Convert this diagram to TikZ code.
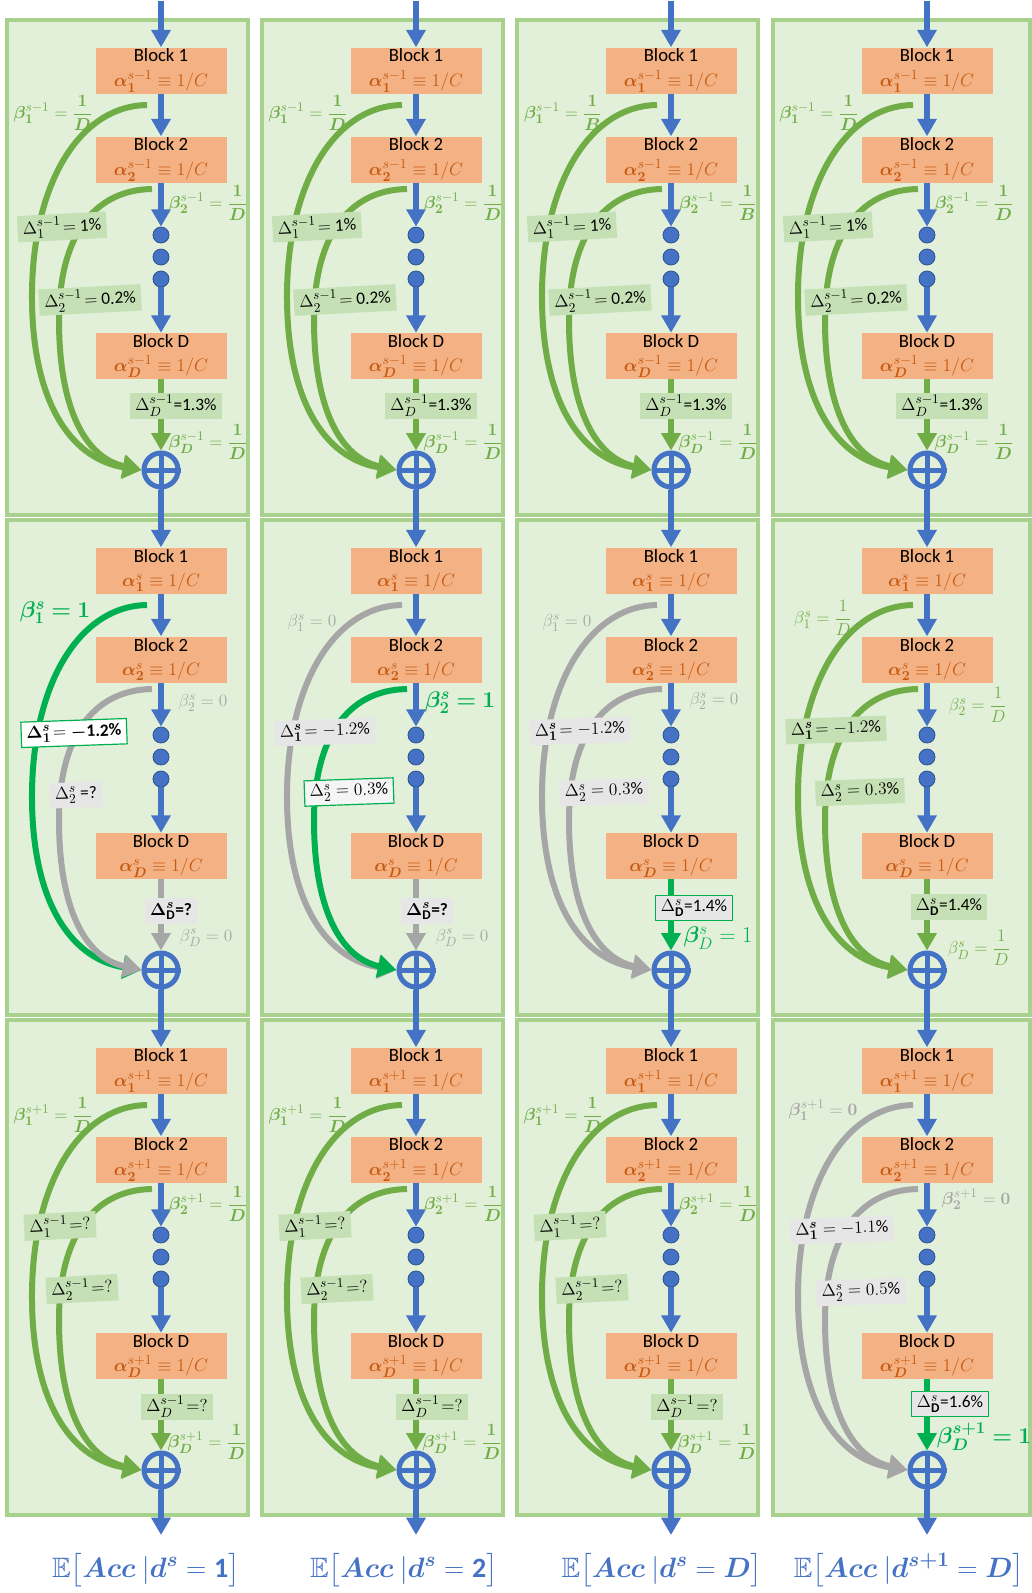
\RequirePackage{fix-cm}
\documentclass[tikz,border=0pt]{standalone}
\usepackage{amsmath,amssymb,bm}
\usepackage{fontspec}
\setmainfont{Carlito}
\usetikzlibrary{arrows.meta,calc}
\DeclareMathSizes{13}{13}{10}{7.5}
\DeclareMathSizes{13.5}{13.5}{10.4}{7.8}
\DeclareMathSizes{17}{17}{12.5}{9.5}
\DeclareMathSizes{21}{21}{15.5}{11}

\definecolor{pfill}{HTML}{E2F0D9}
\definecolor{pline}{HTML}{A9D18E}
\definecolor{bblue}{HTML}{4472C4}
\definecolor{dblue}{HTML}{2F528F}
\definecolor{orfill}{HTML}{F4B183}
\definecolor{ortext}{HTML}{C55A11}
\definecolor{gcurve}{HTML}{70AD47}
\definecolor{glab}{HTML}{C5E0B4}
\definecolor{sel}{HTML}{00B050}
\definecolor{gry}{HTML}{A6A6A6}
\definecolor{glyb}{HTML}{E7E6E6}

\newcommand\alfont{\fontsize{13.5}{18.5}\selectfont}
\tikzset{
  panel/.style={draw=pline, fill=pfill, line width=2.5pt},
  blk/.style={fill=orfill, minimum width=98.25pt, minimum height=34.5pt, inner sep=0pt,
    align=center, font=\fontsize{14}{18.5}\selectfont},
  dotn/.style={circle, fill=bblue, draw=dblue, line width=0.6pt, minimum size=12pt, inner sep=0pt},
  sumn/.style={circle, draw=bblue, line width=3.75pt, minimum size=25.5pt, inner sep=0pt},
  flow/.style={draw=bblue, line width=4pt, -{Triangle[length=13pt,width=14pt]}},
  lastlink/.style={line width=4pt, -{Triangle[length=13pt,width=14pt]}},
  skiparrow/.style={line width=4.5pt, -{Triangle[length=14pt,width=17pt]}},
  blab/.style={inner sep=1pt, font=\fontsize{13}{13}\selectfont},
  bigsel/.style={inner sep=1pt, text=sel, font=\fontsize{17}{17}\selectfont},
  dlab/.style={inner xsep=4pt, inner ysep=2pt, minimum height=19pt, font=\fontsize{13}{13}\selectfont},
  gbox/.style={dlab, fill=glab},
  ybox/.style={dlab, fill=glyb},
  sbox/.style={dlab, draw=sel, line width=0.9pt},
  elab/.style={text=bblue, font=\fontsize{21}{21}\selectfont}
}

% one stage: blocks, dots, sum node and the main blue flow
\newcommand\skel[4]{%
  \draw[panel] (-154,20) rectangle (#3,515);
  \node[blk] (#1-b1) at (0,70.5) {Block 1\\\textcolor{ortext}{\alfont$\bm{\alpha}_{\bm 1}^{#2}\equiv 1/C$}};
  \node[blk] (#1-b2) at (0,159.5) {Block 2\\\textcolor{ortext}{\alfont$\bm{\alpha}_{\bm 2}^{#2}\equiv 1/C$}};
  \node[dotn] (#1-d1) at (0,235) {};
  \node[dotn] (#1-d2) at (0,257) {};
  \node[dotn] (#1-d3) at (0,279) {};
  \node[blk] (#1-bD) at (0,356) {Block D\\\textcolor{ortext}{\alfont$\bm{\alpha}_{\bm D}^{#2}\equiv 1/C$}};
  \node[sumn] (#1-o) at (0,470) {};
  \coordinate (#1-s1) at (-14,105);
  \coordinate (#1-s2) at (-9,189);
  \draw[flow] (#1-b1) -- (#1-b2);
  \draw[flow] (#1-b2) -- (#1-d1);
  \draw[flow] (#1-d3) -- (#1-bD);
  \draw[lastlink,#4] (#1-bD) -- (#1-o);
  \draw[bblue,line width=3.75pt] (#1-o.north) -- (#1-o.south) (#1-o.west) -- (#1-o.east);
}
% skip connections from block 1 and block 2 into the sum
\newcommand\skipA[2]{\draw[skiparrow,#2] (#1-s1) .. controls (-82,106) and (-130,185) .. (-129,300)
  .. controls (-128,410) and (-85,460) .. (#1-o.west);}
\newcommand\skipB[2]{\draw[skiparrow,#2] (#1-s2) .. controls (-70,190) and (-102,240) .. (-102,320)
  .. controls (-102,410) and (-75,458) .. (#1-o.west);}

\begin{document}
\begin{tikzpicture}[x=0.75pt,y=-0.75pt]
\useasboundingbox (0,0) rectangle (1032,1593);

% ---------------- stage s-1 ----------------
\begin{scope}[shift={(161,0)}]
  \skel{a1}{s-1}{87}{gcurve}
  \skipA{a1}{gcurve}\skipB{a1}{gcurve}
  \node[blab,text=gcurve] (a1-l1) at (-108,113) {$\bm{\beta}_{\bm 1}^{s-1}=\dfrac{\bm 1}{\bm D}$};
  \node[blab,text=gcurve] (a1-l2) at (47,203) {$\bm{\beta}_{\bm 2}^{s-1}=\dfrac{\bm 1}{\bm D}$};
  \node[blab,text=gcurve] (a1-lD) at (47,442) {$\bm{\beta}_{\bm D}^{s-1}=\dfrac{\bm 1}{\bm D}$};
  \node[gbox,rotate=3] (a1-x1) at (-99,227) {$\Delta_1^{s-1}\!=$ 1\%};
  \node[gbox,rotate=3] (a1-x2) at (-71,300) {$\Delta_2^{s-1}\!=$ 0.2\%};
  \node[gbox] (a1-xD) at (15,406) {$\Delta_D^{s-1}$=1.3\%};
\end{scope}
\begin{scope}[shift={(416,0)}]
  \skel{a2}{s-1}{87}{gcurve}
  \skipA{a2}{gcurve}\skipB{a2}{gcurve}
  \node[blab,text=gcurve] (a2-l1) at (-108,113) {$\bm{\beta}_{\bm 1}^{s-1}=\dfrac{\bm 1}{\bm D}$};
  \node[blab,text=gcurve] (a2-l2) at (47,203) {$\bm{\beta}_{\bm 2}^{s-1}=\dfrac{\bm 1}{\bm D}$};
  \node[blab,text=gcurve] (a2-lD) at (47,442) {$\bm{\beta}_{\bm D}^{s-1}=\dfrac{\bm 1}{\bm D}$};
  \node[gbox,rotate=3] (a2-x1) at (-99,227) {$\Delta_1^{s-1}\!=$ 1\%};
  \node[gbox,rotate=3] (a2-x2) at (-71,300) {$\Delta_2^{s-1}\!=$ 0.2\%};
  \node[gbox] (a2-xD) at (15,406) {$\Delta_D^{s-1}$=1.3\%};
\end{scope}
\begin{scope}[shift={(671,0)}]
  \skel{a3}{s-1}{87}{gcurve}
  \skipA{a3}{gcurve}\skipB{a3}{gcurve}
  \node[blab,text=gcurve] (a3-l1) at (-108,113) {$\bm{\beta}_{\bm 1}^{s-1}=\dfrac{\bm 1}{\bm B}$};
  \node[blab,text=gcurve] (a3-l2) at (47,203) {$\bm{\beta}_{\bm 2}^{s-1}=\dfrac{\bm 1}{\bm B}$};
  \node[blab,text=gcurve] (a3-lD) at (47,442) {$\bm{\beta}_{\bm D}^{s-1}=\dfrac{\bm 1}{\bm D}$};
  \node[gbox,rotate=3] (a3-x1) at (-99,227) {$\Delta_1^{s-1}\!=$ 1\%};
  \node[gbox,rotate=3] (a3-x2) at (-71,300) {$\Delta_2^{s-1}\!=$ 0.2\%};
  \node[gbox] (a3-xD) at (15,406) {$\Delta_D^{s-1}$=1.3\%};
\end{scope}
\begin{scope}[shift={(927,0)}]
  \skel{a4}{s-1}{103}{gcurve}
  \skipA{a4}{gcurve}\skipB{a4}{gcurve}
  \node[blab,text=gcurve] (a4-l1) at (-108,113) {$\bm{\beta}_{\bm 1}^{s-1}=\dfrac{\bm 1}{\bm D}$};
  \node[blab,text=gcurve] (a4-l2) at (47,203) {$\bm{\beta}_{\bm 2}^{s-1}=\dfrac{\bm 1}{\bm D}$};
  \node[blab,text=gcurve] (a4-lD) at (47,442) {$\bm{\beta}_{\bm D}^{s-1}=\dfrac{\bm 1}{\bm D}$};
  \node[gbox,rotate=3] (a4-x1) at (-99,227) {$\Delta_1^{s-1}\!=$ 1\%};
  \node[gbox,rotate=3] (a4-x2) at (-71,300) {$\Delta_2^{s-1}\!=$ 0.2\%};
  \node[gbox] (a4-xD) at (15,406) {$\Delta_D^{s-1}$=1.3\%};
\end{scope}

% ---------------- stage s ----------------
\begin{scope}[shift={(161,500)}]
  \skel{b1}{s}{87}{gry}
  \skipA{b1}{sel}\skipB{b1}{gry}
  \node[bigsel] (b1-l1) at (-106,113) {$\bm{\beta_1^{s}=1}$};
  \node[blab,text=gry] (b1-l2) at (42,203) {$\beta_2^{s}=0$};
  \node[blab,text=gry] (b1-lD) at (45,438) {$\beta_D^{s}=0$};
  \node[sbox,fill=white,rotate=2] (b1-x1) at (-87,233) {$\bm{\Delta_1^{s}}\!=\bm{-}$\textbf{1.2\%}};
  \node[ybox,rotate=2] (b1-x2) at (-85,295) {$\Delta_2^{s}$ =?};
  \node[ybox] (b1-xD) at (10,411) {$\bm{\Delta}_{\mathbf D}^{\bm s}$\textbf{=?}};
\end{scope}
\begin{scope}[shift={(416,500)}]
  \skel{b2}{s}{87}{gry}
  \skipA{b2}{gry}\skipB{b2}{sel}
  \node[blab,text=gry] (b2-l1) at (-104,123) {$\beta_1^{s}=0$};
  \node[bigsel] (b2-l2) at (44,203) {$\bm{\beta_2^{s}=1}$};
  \node[blab,text=gry] (b2-lD) at (46,438) {$\beta_D^{s}=0$};
  \node[ybox,rotate=2] (b2-x1) at (-91,232) {$\Delta_{\bm 1}^{\bm s}\!=-1.2\%$};
  \node[sbox,fill=white!60!glyb,rotate=2] (b2-x2) at (-67,292) {$\Delta_2^{s}=0.3\%$};
  \node[ybox] (b2-xD) at (11,411) {$\bm{\Delta}_{\mathbf D}^{\bm s}$\textbf{=?}};
\end{scope}
\begin{scope}[shift={(671,500)}]
  \skel{b3}{s}{87}{sel}
  \skipA{b3}{gry}\skipB{b3}{gry}
  \node[blab,text=gry] (b3-l1) at (-104,123) {$\beta_1^{s}=0$};
  \node[blab,text=gry] (b3-l2) at (43,201) {$\beta_2^{s}=0$};
  \node[bigsel] (b3-lD) at (47,438) {$\bm{\beta}_D^{s}=1$};
  \node[ybox,rotate=2] (b3-x1) at (-91,231) {$\Delta_{\bm 1}^{\bm s}\!=-1.2\%$};
  \node[ybox,rotate=2] (b3-x2) at (-67,292) {$\Delta_2^{s}=0.3\%$};
  \node[sbox,fill=glyb] (b3-xD) at (23,408) {$\Delta_{\mathbf D}^{s}$=1.4\%};
\end{scope}
\begin{scope}[shift={(927,500)}]
  \skel{b4}{s}{103}{gcurve}
  \skipA{b4}{gcurve}\skipB{b4}{gcurve}
  \node[blab,text=gcurve] (b4-l1) at (-104,118) {$\beta_1^{s}=\dfrac{1}{D}$};
  \node[blab,text=gcurve] (b4-l2) at (51,205) {$\beta_2^{s}=\dfrac{1}{D}$};
  \node[blab,text=gcurve] (b4-lD) at (52,448) {$\beta_D^{s}=\dfrac{1}{D}$};
  \node[gbox,rotate=2] (b4-x1) at (-91,230) {$\Delta_{\bm 1}^{\bm s}\!=-1.2\%$};
  \node[gbox,rotate=2] (b4-x2) at (-67,292) {$\Delta_2^{s}=0.3\%$};
  \node[gbox] (b4-xD) at (22,407) {$\Delta_{\mathbf D}^{s}$=1.4\%};
\end{scope}

% ---------------- stage s+1 ----------------
\begin{scope}[shift={(161,1000)}]
  \skel{c1}{s+1}{87}{gcurve}
  \skipA{c1}{gcurve}\skipB{c1}{gcurve}
  \node[blab,text=gcurve] (c1-l1) at (-108,115) {$\bm{\beta}_{\bm 1}^{s+1}=\dfrac{\bm 1}{\bm D}$};
  \node[blab,text=gcurve] (c1-l2) at (47,204) {$\bm{\beta}_{\bm 2}^{s+1}=\dfrac{\bm 1}{\bm D}$};
  \node[blab,text=gcurve] (c1-lD) at (46,442) {$\bm{\beta}_{\bm D}^{s+1}=\dfrac{\bm 1}{\bm D}$};
  \node[gbox,rotate=3] (c1-x1) at (-101,226) {$\Delta_1^{s-1}\!=?$};
  \node[gbox,rotate=3] (c1-x2) at (-79,289) {$\Delta_2^{s-1}\!=?$};
  \node[gbox] (c1-xD) at (16,407) {$\Delta_D^{s-1}\!=?$};
\end{scope}
\begin{scope}[shift={(416,1000)}]
  \skel{c2}{s+1}{87}{gcurve}
  \skipA{c2}{gcurve}\skipB{c2}{gcurve}
  \node[blab,text=gcurve] (c2-l1) at (-108,115) {$\bm{\beta}_{\bm 1}^{s+1}=\dfrac{\bm 1}{\bm D}$};
  \node[blab,text=gcurve] (c2-l2) at (47,204) {$\bm{\beta}_{\bm 2}^{s+1}=\dfrac{\bm 1}{\bm D}$};
  \node[blab,text=gcurve] (c2-lD) at (46,442) {$\bm{\beta}_{\bm D}^{s+1}=\dfrac{\bm 1}{\bm D}$};
  \node[gbox,rotate=3] (c2-x1) at (-101,226) {$\Delta_1^{s-1}\!=?$};
  \node[gbox,rotate=3] (c2-x2) at (-79,289) {$\Delta_2^{s-1}\!=?$};
  \node[gbox] (c2-xD) at (16,407) {$\Delta_D^{s-1}\!=?$};
\end{scope}
\begin{scope}[shift={(671,1000)}]
  \skel{c3}{s+1}{87}{gcurve}
  \skipA{c3}{gcurve}\skipB{c3}{gcurve}
  \node[blab,text=gcurve] (c3-l1) at (-108,115) {$\bm{\beta}_{\bm 1}^{s+1}=\dfrac{\bm 1}{\bm D}$};
  \node[blab,text=gcurve] (c3-l2) at (47,204) {$\bm{\beta}_{\bm 2}^{s+1}=\dfrac{\bm 1}{\bm D}$};
  \node[blab,text=gcurve] (c3-lD) at (46,442) {$\bm{\beta}_{\bm D}^{s+1}=\dfrac{\bm 1}{\bm D}$};
  \node[gbox,rotate=3] (c3-x1) at (-101,226) {$\Delta_1^{s-1}\!=?$};
  \node[gbox,rotate=3] (c3-x2) at (-79,289) {$\Delta_2^{s-1}\!=?$};
  \node[gbox] (c3-xD) at (16,407) {$\Delta_D^{s-1}\!=?$};
\end{scope}
\begin{scope}[shift={(927,1000)}]
  \skel{c4}{s+1}{103}{sel}
  \skipA{c4}{gry}\skipB{c4}{gry}
  \node[blab,text=gry] (c4-l1) at (-104,110) {$\bm{\beta}_{\bm 1}^{s+1}=\bm 0$};
  \node[blab,text=gry] (c4-l2) at (49,199) {$\bm{\beta}_{\bm 2}^{s+1}=\bm 0$};
  \node[bigsel] (c4-lD) at (57,437) {$\bm{\beta_D^{s+1}=1}$};
  \node[ybox,rotate=2] (c4-x1) at (-85,230) {$\Delta_{\bm 1}^{\bm s}=-1.1\%$};
  \node[ybox,rotate=2] (c4-x2) at (-66,292) {$\Delta_2^{s}=0.5\%$};
  \node[sbox,fill=glyb] (c4-xD) at (23,404) {$\Delta_{\mathbf D}^{s}$=1.6\%};
\end{scope}

% flow entering, linking and leaving the stages
\foreach \c/\x in {1/161,2/416,3/671,4/927}{
  \coordinate (a\c-top) at (\x,1);
  \coordinate (c\c-end) at (\x,1535);
  \draw[flow] (a\c-top) -- (a\c-b1);
  \draw[flow] (a\c-o) -- (b\c-b1);
  \draw[flow] (b\c-o) -- (c\c-b1);
  \draw[flow] (c\c-o) -- (c\c-end);
}

% expected accuracy under each depth choice
\node[elab] (e1) at (146,1570) {$\mathbb{E}\bigl[\bm{Acc}\ |\bm{d^{s}}=\mathbf{1}\bigr]$};
\node[elab] (e2) at (404,1570) {$\mathbb{E}\bigl[\bm{Acc}\ |\bm{d^{s}}=\mathbf{2}\bigr]$};
\node[elab] (e3) at (662,1570) {$\mathbb{E}\bigl[\bm{Acc}\ |\bm{d^{s}}=\bm{D}\bigr]$};
\node[elab] (e4) at (909,1570) {$\mathbb{E}\bigl[\bm{Acc}\ |\bm{d^{s+1}}=\bm{D}\bigr]$};
\end{tikzpicture}
\end{document}
